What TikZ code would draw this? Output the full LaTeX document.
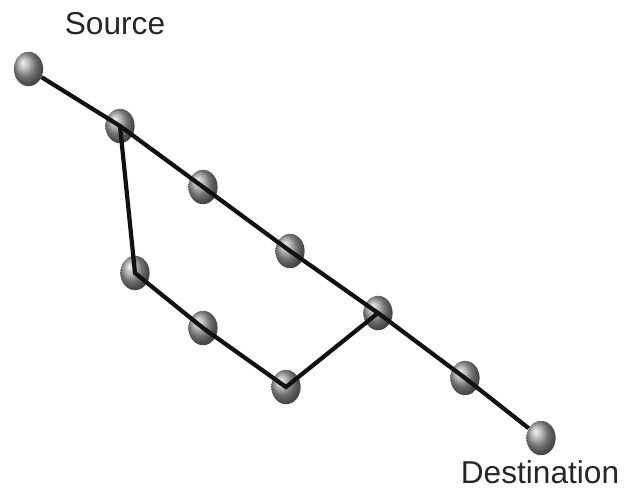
\documentclass[tikz,border=0pt]{standalone}
\usepackage{fontspec}
\setmainfont{Liberation Sans}
\usetikzlibrary{positioning,shapes.geometric}
\definecolor{hop}{HTML}{A0A0A0}
\definecolor{wire}{HTML}{111111}
\begin{document}
\begin{tikzpicture}[x=0.025cm,y=-0.025cm,
  router/.style={ellipse,shading=ball,ball color=hop,draw=none,minimum width=0.73cm,minimum height=0.86cm,inner sep=0pt},
  link/.style={draw=wire,line width=3pt,line join=miter},
  tag/.style={font=\fontsize{22.5}{26}\selectfont,text=black!85}]
  \useasboundingbox (0,0) rectangle (624,489);
  % ---------------- routers along the direct path ----------------
  \node[router] (src) at (28.5,69) {};
  \node[router] (r1) at (120,126) {};
  \node[router] (r2) at (203,187) {};
  \node[router] (r3) at (290,251) {};
  \node[router] (r4) at (378,313) {};
  \node[router] (r5) at (465,378) {};
  \node[router] (dst) at (541,438) {};
  % ---------------- routers along the detour ----------------
  \node[router] (d1) at (135,273) {};
  \node[router] (d2) at (203,328) {};
  \node[router] (d3) at (286,387) {};

  \node[tag] (srclbl) at (115,24) {Source};
  \node[tag] (dstlbl) at (540,472) {Destination};

  % links, drawn over the routers they pass through
  \draw[link] (src) -- (r1.center) -- (r2.center) -- (r3.center) -- (r4.center) -- (r5.center) -- (dst);
  \draw[link] (r1.center) -- (d1.center) -- (d2.center) -- (d3.center) -- (r4.center);
\end{tikzpicture}
\end{document}
